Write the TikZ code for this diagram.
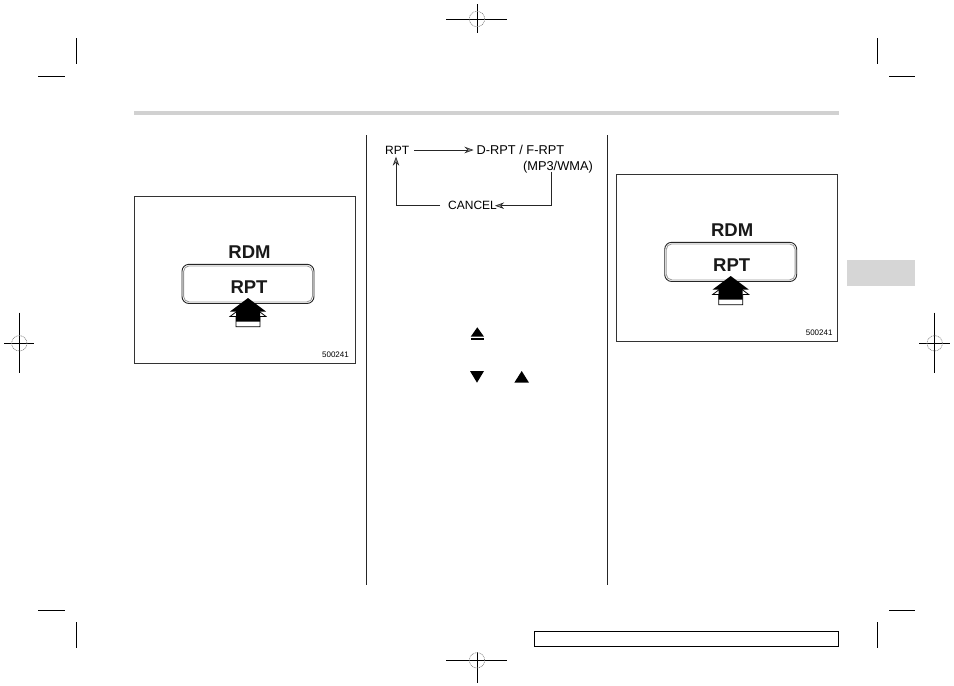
\documentclass[tikz,border=0pt]{standalone}
\usepackage{fontspec}
\setmainfont{Liberation Sans}
\usetikzlibrary{arrows.meta}
\tikzset{
  cropline/.style={line width=1pt, black},
  crossline/.style={line width=0.9pt, black},
  crosscircle/.style={line width=0.6pt, gray, dash pattern=on 1pt off 0.8pt},
  figframe/.style={line width=0.8pt, black!80},
  bigtxt/.style={inner sep=0pt, font=\fontsize{18.5}{20}\selectfont\bfseries, text=black!90},
  numtxt/.style={inner sep=0pt, font=\fontsize{8}{9}\selectfont, anchor=east},
  flowtxt/.style={inner sep=0pt, font=\fontsize{12}{13}\selectfont},
  widetxt/.style={inner sep=0pt, font=\fontsize{12.8}{14}\selectfont},
  flowline/.style={line width=0.7pt, black!85},
  flowarrow/.style={flowline, -{Stealth[length=9pt,width=6.5pt,inset=3pt,fill=black!45,line width=0.6pt]}},
  colline/.style={line width=0.9pt, black!85},
}
\begin{document}
\begin{tikzpicture}[x=1pt,y=-1pt]
\useasboundingbox (0,0) rectangle (954,686);
\fill[white] (0,0) rectangle (954,686);

% crop marks
\draw[cropline] (76.5,38) -- (76.5,64);
\draw[cropline] (38,76) -- (65,76);
\draw[cropline] (877.7,38) -- (877.7,64);
\draw[cropline] (889,76) -- (915,76);
\draw[cropline] (38,610.3) -- (65,610.3);
\draw[cropline] (76.5,622) -- (76.5,648);
\draw[cropline] (889,610.3) -- (915,610.3);
\draw[cropline] (877.7,622) -- (877.7,648);

% crosshairs
\coordinate (ct) at (477,19);
\draw[crossline] (446,19) -- (507,19);
\draw[crossline] (477,4) -- (477,33);
\draw[crosscircle] (ct) circle (7.7);
\coordinate (cb) at (477,660.3);
\draw[crossline] (446,660.3) -- (507,660.3);
\draw[crossline] (477,652) -- (477,683);
\draw[crosscircle] (cb) circle (7.7);
\coordinate (cl) at (19.3,343.3);
\draw[crossline] (4,343.3) -- (33.7,343.3);
\draw[crossline] (19.3,312.7) -- (19.3,373.3);
\draw[crosscircle] (cl) circle (7.7);
\coordinate (cr) at (934.7,343.3);
\draw[crossline] (919,343.3) -- (950,343.3);
\draw[crossline] (934.7,312.7) -- (934.7,373.3);
\draw[crosscircle] (cr) circle (7.7);

% header bar and tab
\fill[black!18] (134,111) rectangle (839,115);
\fill[black!16] (846.7,260) rectangle (915,285.7);

% bottom box
\draw[line width=1pt] (534.3,631.3) rectangle (838.7,646.3);

% column lines
\draw[colline] (366,135) -- (366,585);
\draw[colline] (607,135) -- (607,585);

% figure 1
\begin{scope}[shift={(134,196)}]
  \draw[figframe] (0,0) rectangle (221,167);
  \node[bigtxt] (rdmA) at (115.5,56) {RDM};
  \draw[line width=0.9pt, black!85, rounded corners=7pt] (48,68.3) rectangle (180,107.5);
  \draw[line width=0.8pt, black!40, rounded corners=5.5pt] (49.6,69.9) rectangle (178.4,105.9);
  \node[bigtxt] (rptA) at (115,91) {RPT};
  \draw[line width=0.8pt, fill=white] (114,107) -- (132,120.5) -- (126,120.5) -- (126,130.7) -- (102,130.7) -- (102,120.5) -- (96,120.5) -- cycle;
  \fill[black] (114,102) -- (132,115.5) -- (126,115.5) -- (126,125.7) -- (102,125.7) -- (102,115.5) -- (96,115.5) -- cycle;
  \node[numtxt] (numA) at (215,158.5) {500241};
\end{scope}

% figure 2
\begin{scope}[shift={(616.7,174)}]
  \draw[figframe] (0,0) rectangle (221,167);
  \node[bigtxt] (rdmB) at (115.5,56) {RDM};
  \draw[line width=0.9pt, black!85, rounded corners=7pt] (48,68.3) rectangle (180,107.5);
  \draw[line width=0.8pt, black!40, rounded corners=5.5pt] (49.6,69.9) rectangle (178.4,105.9);
  \node[bigtxt] (rptB) at (115,91) {RPT};
  \draw[line width=0.8pt, fill=white] (114,107) -- (132,120.5) -- (126,120.5) -- (126,130.7) -- (102,130.7) -- (102,120.5) -- (96,120.5) -- cycle;
  \fill[black] (114,102) -- (132,115.5) -- (126,115.5) -- (126,125.7) -- (102,125.7) -- (102,115.5) -- (96,115.5) -- cycle;
  \node[numtxt] (numB) at (216,159) {500241};
\end{scope}

% flow diagram
\node[flowtxt, anchor=west] (rpt) at (385,150) {RPT};
\node[widetxt, anchor=west] (drpt) at (476.5,150) {D-RPT / F-RPT};
\node[widetxt, anchor=east] (mp3) at (593,166.7) {(MP3/WMA)};
\node[flowtxt, anchor=west] (cancel) at (448,205.7) {CANCEL};
\coordinate (a1) at (414,150);
\draw[flowarrow] (a1) -- ([xshift=-3pt]drpt.west);
\coordinate (c1) at (551,171.7);
\coordinate (c2) at (551,205.7);
\draw[flowarrow] (c1) -- (c2) -- ([xshift=-2pt]cancel.east);
\coordinate (d1) at (440,205.7);
\coordinate (d2) at (396,205.7);
\coordinate (d3) at (396,156.7);
\draw[flowarrow] (d1) -- (d2) -- (d3);

% symbols
\fill (477.3,327.3) -- (484,336.7) -- (470.7,336.7) -- cycle;
\fill (470.7,338.4) rectangle (484,339.8);
\fill (470,371) -- (484,371) -- (477,382.7) -- cycle;
\fill (521.7,371) -- (529,382.7) -- (514.3,382.7) -- cycle;
\end{tikzpicture}
\end{document}
